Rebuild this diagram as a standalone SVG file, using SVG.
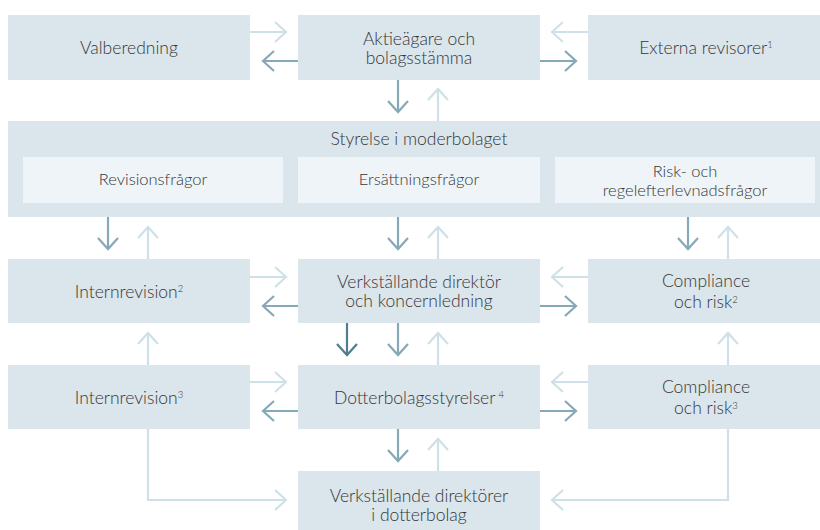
<svg xmlns="http://www.w3.org/2000/svg" width="820" height="530" viewBox="0 0 820 530">
<defs>
<style>
.box{fill:#dae5ec}
.sub{fill:#eef4f7}
.t{font-family:Lato,"Open Sans","DejaVu Sans",sans-serif;font-size:17.5px;font-weight:300;fill:#363636;text-anchor:middle}
.s{font-size:16.5px}
.sup{font-size:9.5px}
.dk{stroke:#86a9b8;stroke-width:2.2;fill:none}
.lt{stroke:#cfe1e8;stroke-width:2.2;fill:none}
.dd{stroke:#4f7e8f;stroke-width:2.2;fill:none}
</style>
<marker id="mdk" markerUnits="userSpaceOnUse" markerWidth="30" markerHeight="30" viewBox="-15 -15 30 30" refX="0" refY="0" orient="auto"><path d="M-11,-10 L0,0 L-11,10" fill="none" stroke="#86a9b8" stroke-width="2.2"/></marker>
<marker id="mlt" markerUnits="userSpaceOnUse" markerWidth="30" markerHeight="30" viewBox="-15 -15 30 30" refX="0" refY="0" orient="auto"><path d="M-11,-10 L0,0 L-11,10" fill="none" stroke="#cfe1e8" stroke-width="2.2"/></marker>
<marker id="mdd" markerUnits="userSpaceOnUse" markerWidth="30" markerHeight="30" viewBox="-15 -15 30 30" refX="0" refY="0" orient="auto"><path d="M-11,-10 L0,0 L-11,10" fill="none" stroke="#4f7e8f" stroke-width="2.2"/></marker>
</defs>
<rect width="820" height="530" fill="#ffffff"/>

<g id="connectors">
<line class="lt" x1="250" y1="32" x2="286" y2="32" marker-end="url(#mlt)"/>
<line class="dk" x1="298" y1="61" x2="263" y2="61" marker-end="url(#mdk)"/>
<line class="lt" x1="588" y1="32" x2="552" y2="32" marker-end="url(#mlt)"/>
<line class="dk" x1="540" y1="61" x2="576" y2="61" marker-end="url(#mdk)"/>
<line class="dk" x1="398" y1="80" x2="398" y2="112" marker-end="url(#mdk)"/>
<line class="lt" x1="438" y1="121" x2="438" y2="89" marker-end="url(#mlt)"/>
<line class="dk" x1="108" y1="217" x2="108" y2="249" marker-end="url(#mdk)"/>
<line class="lt" x1="148" y1="259" x2="148" y2="227" marker-end="url(#mlt)"/>
<line class="dk" x1="398" y1="217" x2="398" y2="249" marker-end="url(#mdk)"/>
<line class="lt" x1="438" y1="259" x2="438" y2="227" marker-end="url(#mlt)"/>
<line class="dk" x1="688" y1="217" x2="688" y2="249" marker-end="url(#mdk)"/>
<line class="lt" x1="728" y1="259" x2="728" y2="227" marker-end="url(#mlt)"/>
<line class="lt" x1="250" y1="277" x2="286" y2="277" marker-end="url(#mlt)"/>
<line class="dk" x1="298" y1="306" x2="263" y2="306" marker-end="url(#mdk)"/>
<line class="lt" x1="588" y1="277" x2="552" y2="277" marker-end="url(#mlt)"/>
<line class="dk" x1="540" y1="306" x2="576" y2="306" marker-end="url(#mdk)"/>
<line class="lt" x1="148" y1="365" x2="148" y2="333" marker-end="url(#mlt)"/>
<line class="dd" x1="347" y1="323" x2="347" y2="355" marker-end="url(#mdd)"/>
<line class="dk" x1="398" y1="323" x2="398" y2="355" marker-end="url(#mdk)"/>
<line class="lt" x1="438" y1="365" x2="438" y2="333" marker-end="url(#mlt)"/>
<line class="lt" x1="728" y1="365" x2="728" y2="333" marker-end="url(#mlt)"/>
<line class="lt" x1="250" y1="382" x2="286" y2="382" marker-end="url(#mlt)"/>
<line class="dk" x1="298" y1="411" x2="263" y2="411" marker-end="url(#mdk)"/>
<line class="lt" x1="588" y1="382" x2="552" y2="382" marker-end="url(#mlt)"/>
<line class="dk" x1="540" y1="411" x2="576" y2="411" marker-end="url(#mdk)"/>
<line class="dk" x1="398" y1="429" x2="398" y2="461" marker-end="url(#mdk)"/>
<line class="lt" x1="438" y1="471" x2="438" y2="439" marker-end="url(#mlt)"/>
<polyline class="lt" points="148,429 148,500 286,500" marker-end="url(#mlt)"/>
<polyline class="lt" points="728,429 728,500 552,500" marker-end="url(#mlt)"/>
</g>

<g id="valberedning"><rect class="box" x="8" y="15" width="242" height="65"/><text class="t" x="129" y="54">Valberedning</text></g>
<g id="aktieagare"><rect class="box" x="298" y="15" width="242" height="65"/><text class="t" x="419" y="45">Aktieägare och</text><text class="t" x="419" y="64">bolagsstämma</text></g>
<g id="externa"><rect class="box" x="588" y="15" width="232" height="65"/><text class="t" x="706" y="54">Externa revisorer<tspan class="sup" dy="-6">1</tspan></text></g>

<g id="styrelse"><rect class="box" x="8" y="121" width="812" height="96"/><text class="t" x="419" y="145">Styrelse i moderbolaget</text></g>
<g id="revisionsfragor"><rect class="sub" x="23" y="157" width="260" height="46"/><text class="t s" x="153" y="185">Revisionsfrågor</text></g>
<g id="ersattningsfragor"><rect class="sub" x="298" y="157" width="242" height="46"/><text class="t s" x="419" y="185">Ersättningsfrågor</text></g>
<g id="riskfragor"><rect class="sub" x="555" y="157" width="260" height="46"/><text class="t s" x="685" y="177">Risk- och</text><text class="t s" x="685" y="196">regelefterlevnadsfrågor</text></g>

<g id="internrevision2"><rect class="box" x="8" y="259" width="242" height="64"/><text class="t" x="129" y="298">Internrevision<tspan class="sup" dy="-6">2</tspan></text></g>
<g id="vd"><rect class="box" x="298" y="259" width="242" height="64"/><text class="t" x="419" y="288">Verkställande direktör</text><text class="t" x="419" y="307">och koncernledning</text></g>
<g id="compliance2"><rect class="box" x="588" y="259" width="232" height="64"/><text class="t" x="706" y="287">Compliance</text><text class="t" x="706" y="308">och risk<tspan class="sup" dy="-5">2</tspan></text></g>

<g id="internrevision3"><rect class="box" x="8" y="365" width="242" height="64"/><text class="t" x="129" y="404">Internrevision<tspan class="sup" dy="-6">3</tspan></text></g>
<g id="dotterbolagsstyrelser"><rect class="box" x="298" y="365" width="242" height="64"/><text class="t" x="419" y="404">Dotterbolagsstyrelser<tspan class="sup" dx="3" dy="-6">4</tspan></text></g>
<g id="compliance3"><rect class="box" x="588" y="365" width="232" height="64"/><text class="t" x="706" y="393">Compliance</text><text class="t" x="706" y="414">och risk<tspan class="sup" dy="-5">3</tspan></text></g>

<g id="vd-dotterbolag"><rect class="box" x="298" y="471" width="242" height="59"/><text class="t" x="419" y="502">Verkställande direktörer</text><text class="t" x="419" y="521">i dotterbolag</text></g>
</svg>
